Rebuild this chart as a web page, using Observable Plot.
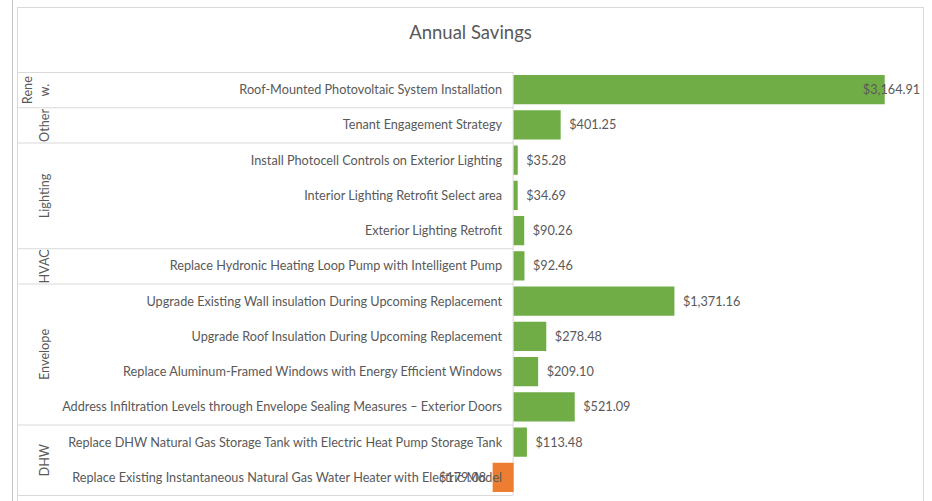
<!DOCTYPE html>
<html><head><meta charset="utf-8">
<script src="https://cdn.jsdelivr.net/npm/d3@7"></script>
<script src="https://cdn.jsdelivr.net/npm/@observablehq/plot@0.6"></script>
<style>
html,body{margin:0;padding:0;background:#fff;overflow:hidden}
#wrap{position:relative;width:932px;height:501px}
#sheetline{position:absolute;left:12px;top:0;width:1px;height:501px;background:#c6c6c6}
#chart{position:absolute;left:0;top:0}
</style></head><body>
<div id="wrap"><div id="sheetline"></div><div id="chart"></div></div>
<script>
const title = "Annual Savings";
const measures = [
  "Roof-Mounted Photovoltaic System Installation",
  "Tenant Engagement Strategy",
  "Install Photocell Controls on Exterior Lighting",
  "Interior Lighting Retrofit Select area",
  "Exterior Lighting Retrofit",
  "Replace Hydronic Heating Loop Pump with Intelligent Pump",
  "Upgrade Existing Wall insulation During Upcoming Replacement",
  "Upgrade Roof Insulation During Upcoming Replacement",
  "Replace Aluminum-Framed Windows with Energy Efficient Windows",
  "Address Infiltration Levels through Envelope Sealing Measures \u2013 Exterior Doors",
  "Replace DHW Natural Gas Storage Tank with Electric Heat Pump Storage Tank",
  "Replace Existing Instantaneous Natural Gas Water Heater with Electric Model"
];
const categories = ["Renew.", "Other", "Lighting", "Lighting", "Lighting", "HVAC",
  "Envelope", "Envelope", "Envelope", "Envelope", "DHW", "DHW"];
const savings = [3164.91, 401.25, 35.28, 34.69, 90.26, 92.46, 1371.16, 278.48, 209.10, 521.09, 113.48, -179.08];
const categoryLabels = {"Renew.": "Rene\nw.", "Other": "Other", "Lighting": "Lighting", "HVAC": "HVAC", "Envelope": "Envelope", "DHW": "DHW"};

const rows = measures.map((m, i) => ({i, measure: m, category: categories[i], value: savings[i]}));
const groups = [];
rows.forEach(r => {
  const g = groups[groups.length - 1];
  if (g && g.category === r.category) g.end = r.i + 1;
  else groups.push({category: r.category, start: r.i, end: r.i + 1});
});
const boundaries = [0, ...groups.map(g => g.end)];
const fmt = v => d3.format("$,.2f")(Math.abs(v));
const font = "Lato, sans-serif";
const pad = 0.085;
const vmax = d3.max(savings);
const gridColor = "#d9d9d9";
const textColor = "#595959";
const fs = 12.7;

const plot = Plot.plot({
  width: 932, height: 501,
  marginLeft: 17, marginRight: 9, marginTop: 7, marginBottom: 0,
  style: {fontFamily: font, background: "transparent", overflow: "visible"},
  x: {domain: [-500, 3500], range: [455, 924], axis: null},
  y: {domain: [0, measures.length], range: [72, 495], axis: null},
  color: {type: "identity"},
  marks: [
    Plot.frame({stroke: gridColor}),
    Plot.text([title], {frameAnchor: "top", dy: 26, fontSize: 18.5, fill: textColor, lineAnchor: "middle"}),
    Plot.ruleY(boundaries, {y: d => d, insetRight: 410, stroke: gridColor}),
    Plot.ruleX([0], {x: d => d, y1: () => boundaries[0], y2: () => boundaries[boundaries.length - 1], dx: -1, stroke: gridColor}),
    Plot.rect(rows, {x1: () => 0, x2: "value", y1: d => d.i + pad, y2: d => d.i + 1 - pad,
      fill: d => d.value < 0 ? "#ED7D31" : "#70AD47"}),
    Plot.text(rows, {x: () => 0, y: d => d.i + 0.5, text: "measure", textAnchor: "end", dx: -12,
      fill: textColor, fontSize: fs}),
    Plot.text(groups, {frameAnchor: "left", y: d => (d.start + d.end) / 2, text: d => categoryLabels[d.category],
      rotate: -90, textAnchor: "middle", lineAnchor: "bottom", dx: 31, lineHeight: 1.28, fill: textColor, fontSize: fs}),
    Plot.text(rows.filter(d => d.value >= 0 && d.value < vmax), {x: "value", y: d => d.i + 0.5, text: d => fmt(d.value),
      textAnchor: "start", dx: 8, fill: textColor, fontSize: fs}),
    Plot.text(rows.filter(d => d.value === vmax), {x: "value", y: d => d.i + 0.5, text: d => fmt(d.value),
      textAnchor: "end", dx: 35, fill: textColor, fontSize: fs}),
    Plot.text(rows.filter(d => d.value < 0), {x: "value", y: d => d.i + 0.5, text: d => fmt(d.value),
      textAnchor: "end", dx: -7, fill: textColor, fontSize: fs})
  ]
});
document.getElementById("chart").appendChild(plot);
</script>
</body></html>
